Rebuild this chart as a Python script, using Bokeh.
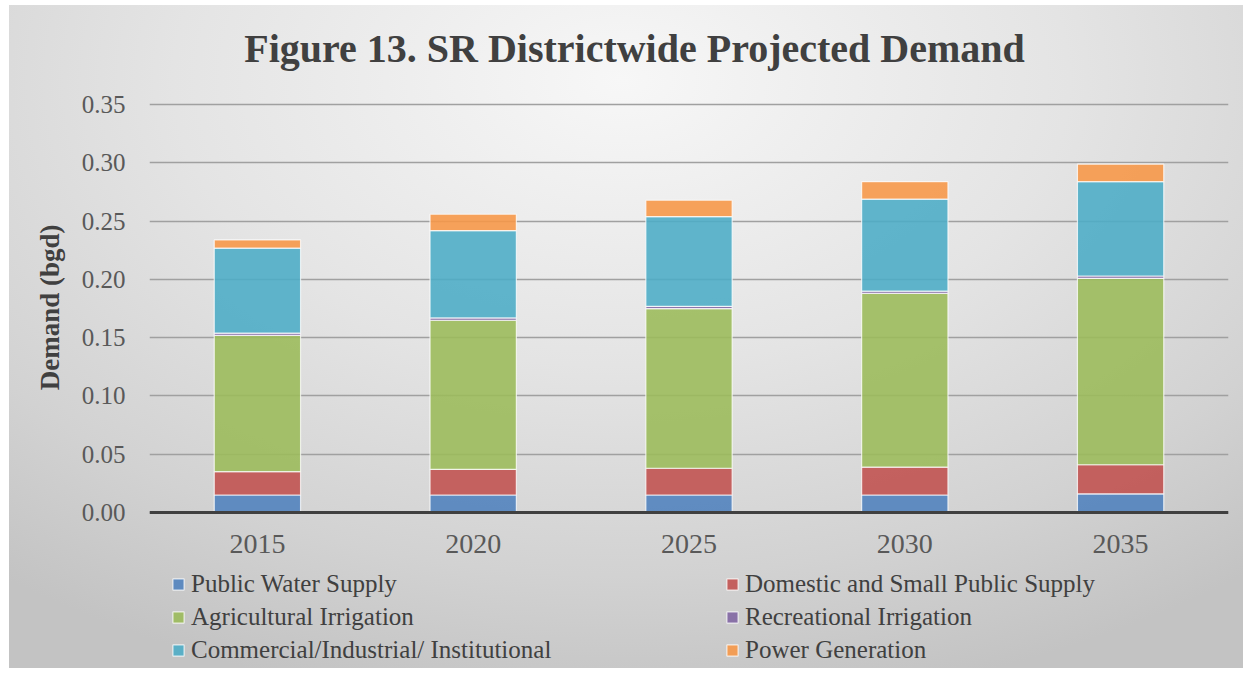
from bokeh.plotting import figure
from bokeh.models import Range1d, FixedTicker, Legend, LegendItem, NumeralTickFormatter, Title, Label
from bokeh.embed import file_html
from bokeh.resources import INLINE

years = ["2015", "2020", "2025", "2030", "2035"]
series_names = [
    "Public Water Supply",
    "Domestic and Small Public Supply",
    "Agricultural Irrigation",
    "Recreational Irrigation",
    "Commercial/Industrial/ Institutional",
    "Power Generation",
]
public_water_supply = [0.015, 0.015, 0.015, 0.015, 0.016]
domestic_small_public = [0.020, 0.022, 0.023, 0.024, 0.025]
agricultural_irrigation = [0.117, 0.128, 0.137, 0.149, 0.160]
recreational_irrigation = [0.002, 0.002, 0.002, 0.002, 0.002]
commercial_industrial = [0.073, 0.075, 0.077, 0.079, 0.081]
power_generation = [0.007, 0.014, 0.014, 0.015, 0.015]
y_ticks = [0.0, 0.05, 0.10, 0.15, 0.20, 0.25, 0.30, 0.35]
title_text = "Figure 13. SR Districtwide Projected Demand"
y_label = "Demand (bgd)"

colors = ["#4f81bd", "#c0504d", "#9bbb59", "#8064a2", "#4bacc6", "#f79646"]
keys = ["pws", "dsps", "ag", "rec", "cii", "pg"]
data = dict(
    years=years,
    pws=public_water_supply,
    dsps=domestic_small_public,
    ag=agricultural_irrigation,
    rec=recreational_irrigation,
    cii=commercial_industrial,
    pg=power_generation,
)

FONT = "Liberation Serif"

# layout (pixels): value axis spans 408 px for 0..0.35; the frame extends
# above it (title) and below 0 (category labels and legend).
TOP_PX = 104
AXIS_PX = 408
BELOW_PX = 152
FRAME_H = TOP_PX + AXIS_PX + BELOW_PX
Y_TOP = 0.3502
px_per_unit = AXIS_PX / Y_TOP
y_bottom = -BELOW_PX / px_per_unit
y_top = Y_TOP + TOP_PX / px_per_unit

p = figure(
    x_range=years,
    y_range=Range1d(y_bottom, y_top),
    frame_width=1079,
    frame_height=FRAME_H,
    output_backend="svg",
    toolbar_location=None,
    min_border_left=149,
    min_border_right=15,
    min_border_top=0,
    min_border_bottom=4,
)
p.title.visible = False
p.x_range.range_padding = 0

p.background_fill_color = None
p.border_fill_color = None
p.outline_line_color = None
p.styles = {
    "background": "radial-gradient(ellipse 80% 95% at 50% 12%, #f7f7f7 0%, #e4e4e4 45%, #d2d2d2 78%, #c3c3c3 100%)",
    "box-shadow": "inset 9px 5px 0 0 #ffffff",
}

title = Label(x=485, y=FRAME_H - 48, x_units="screen", y_units="screen",
              text=title_text, text_align="center", text_baseline="alphabetic",
              text_font=FONT, text_font_size="40px", text_font_style="bold",
              text_color="#404040")
p.add_layout(title)

ylab = Title(text=y_label, align="right", offset=TOP_PX + 120,
             text_font=FONT, text_font_size="27px", text_font_style="bold",
             text_color="#404040", standoff=28)
p.add_layout(ylab, "left")

renderers = p.vbar_stack(
    keys, x="years", width=0.4, source=data,
    fill_color=colors, fill_alpha=0.88,
    line_color="white", line_alpha=0.75, line_width=1.2,
)

p.ygrid.ticker = FixedTicker(ticks=y_ticks)
p.ygrid.grid_line_color = "#a0a0a0"
p.ygrid.grid_line_width = 1.6
p.xgrid.grid_line_color = None

p.yaxis.ticker = FixedTicker(ticks=y_ticks)
p.yaxis.bounds = (0, 0.35)
p.yaxis.formatter = NumeralTickFormatter(format="0.00")
p.yaxis.axis_line_color = None
p.yaxis.major_tick_line_color = None
p.yaxis.minor_tick_line_color = None
p.yaxis.major_label_text_font = FONT
p.yaxis.major_label_text_font_size = "25px"
p.yaxis.major_label_text_color = "#595959"
p.yaxis.major_label_standoff = 18

p.xaxis.fixed_location = 0
p.xaxis.axis_line_color = "#404040"
p.xaxis.axis_line_width = 3
p.xaxis.major_tick_line_color = None
p.xaxis.minor_tick_line_color = None
p.xaxis.major_label_text_font = FONT
p.xaxis.major_label_text_font_size = "28px"
p.xaxis.major_label_text_color = "#595959"
p.xaxis.major_label_standoff = 16

items = [LegendItem(label=n, renderers=[r]) for n, r in zip(series_names, renderers)]
legend = Legend(
    items=items, orientation="horizontal", ncols=2,
    location=(22, 0),
    label_text_font=FONT, label_text_font_size="25px", label_text_color="#404040",
    label_width=530, label_height=29, glyph_width=14, glyph_height=14,
    label_standoff=6, spacing=4, padding=0, margin=0,
    background_fill_alpha=0, border_line_color=None,
)
p.add_layout(legend, "center")

open("out.html", "w").write(file_html(p, INLINE))
